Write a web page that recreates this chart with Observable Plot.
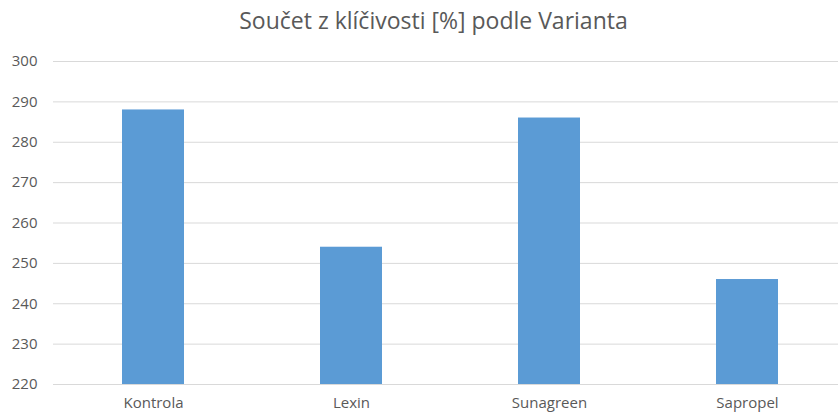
<!DOCTYPE html>
<html>
<head>
<meta charset="utf-8">
<script src="https://cdn.jsdelivr.net/npm/d3@7"></script>
<script src="https://cdn.jsdelivr.net/npm/@observablehq/plot@0.6"></script>
<style>
  html, body { margin: 0; padding: 0; background: #fff; }
  #wrap { width: 838px; height: 414px; overflow: hidden; font-family: "Open Sans", Lato, sans-serif; }
  #title { height: 48px; box-sizing: border-box; padding-left: 29px; padding-top: 8px; text-align: center; font-size: 23px; color: #595959; line-height: 24px; white-space: nowrap; }
</style>
</head>
<body>
<div id="wrap">
  <div id="title">Součet z klíčivosti [%] podle Varianta</div>
  <div id="chart"></div>
</div>
<script>
const categories = ["Kontrola", "Lexin", "Sunagreen", "Sapropel"];
const values = [288, 254, 286, 246];
const yTicks = [220, 230, 240, 250, 260, 270, 280, 290, 300];

const data = categories.map((c, i) => ({ category: c, value: values[i] }));
const yMin = yTicks[0];
const yMax = yTicks[yTicks.length - 1];

const plot = Plot.plot({
  width: 838,
  height: 366,
  marginTop: 13,
  marginBottom: 30,
  marginLeft: 53,
  marginRight: 0,
  style: { fontFamily: "'Open Sans', Lato, sans-serif", fontSize: "15px", color: "#595959", background: "#fff" },
  x: { type: "band", domain: categories, range: [54, 846.8], paddingInner: 0.687, paddingOuter: 0.3435, label: null },
  y: { domain: [yMin, yMax], label: null },
  marks: [
    Plot.ruleY(yTicks, { stroke: "#d9d9d9", strokeWidth: 1 }),
    Plot.barY(data, { x: "category", y1: () => yMin, y2: "value", fill: "#5b9bd5" }),
    Plot.axisY({ ticks: yTicks, tickSize: 0, tickPadding: 16, label: null, fill: "#595959", fontSize: 15 }),
    Plot.axisX({ tickSize: 0, tickPadding: 13, label: null, fill: "#595959", fontSize: 15 })
  ]
});
document.getElementById("chart").appendChild(plot);
</script>
</body>
</html>
